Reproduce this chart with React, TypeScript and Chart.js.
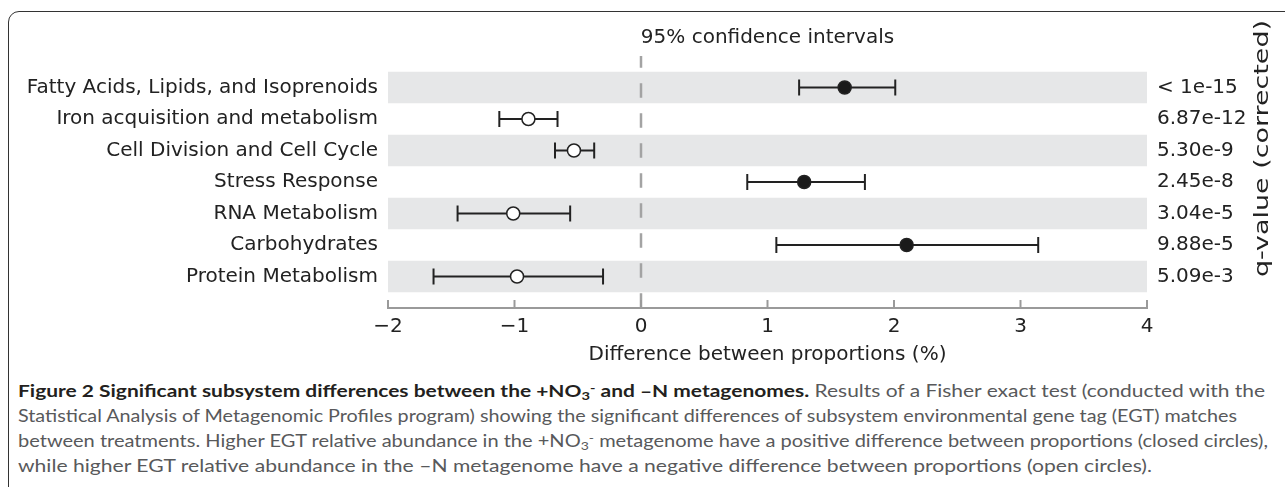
import React, { useEffect, useLayoutEffect, useRef } from 'react';
import { Chart, registerables } from 'chart.js';

Chart.register(...registerables);

const CATEGORIES = [
  'Fatty Acids, Lipids, and Isoprenoids',
  'Iron acquisition and metabolism',
  'Cell Division and Cell Cycle',
  'Stress Response',
  'RNA Metabolism',
  'Carbohydrates',
  'Protein Metabolism',
];
const DIFFERENCE = [1.61, -0.89, -0.53, 1.29, -1.01, 2.1, -0.98];
const CI_LOW = [1.25, -1.12, -0.68, 0.84, -1.45, 1.07, -1.64];
const CI_HIGH = [2.01, -0.66, -0.37, 1.77, -0.56, 3.14, -0.3];
const Q_VALUES = ['< 1e-15', '6.87e-12', '5.30e-9', '2.45e-8', '3.04e-5', '9.88e-5', '5.09e-3'];
const X_TICKS = [-2, -1, 0, 1, 2, 3, 4];

const TITLE = '95% confidence intervals';
const X_TITLE = 'Difference between proportions (%)';
const Q_TITLE = 'q-value (corrected)';

const FONT = "'DejaVu Sans', sans-serif";
const INK = '#222222';

const decor = {
  id: 'decor',
  beforeDatasetsDraw(chart: any) {
    const { ctx, chartArea: a, scales } = chart;
    const x = scales.x;
    const y = scales.y;
    ctx.save();
    // alternating row bands
    ctx.fillStyle = '#e6e7e8';
    CATEGORIES.forEach((_, i) => {
      if (i % 2 !== 0) return;
      const t = y.getPixelForValue(i - 0.5);
      const b = y.getPixelForValue(i + 0.5);
      ctx.fillRect(a.left, Math.min(t, b), a.right - a.left, Math.abs(b - t));
    });
    // dashed zero line
    const zx = x.getPixelForValue(0);
    ctx.strokeStyle = '#a3a3a3';
    ctx.lineWidth = 2.5;
    ctx.setLineDash([14.5, 15.5]);
    ctx.lineDashOffset = 2.7;
    ctx.beginPath();
    ctx.moveTo(zx, a.top);
    ctx.lineTo(zx, a.bottom);
    ctx.stroke();
    ctx.setLineDash([]);
    // inward tick marks
    ctx.strokeStyle = '#9a9a9a';
    ctx.lineWidth = 2;
    x.ticks.forEach((t: any) => {
      const px = x.getPixelForValue(t.value);
      ctx.beginPath();
      ctx.moveTo(px, a.bottom);
      ctx.lineTo(px, a.bottom - 8);
      ctx.stroke();
    });
    ctx.restore();
  },
  afterDraw(chart: any) {
    const { ctx, chartArea: a } = chart;
    ctx.save();
    ctx.font = `20px ${FONT}`;
    ctx.fillStyle = INK;
    ctx.textAlign = 'center';
    ctx.textBaseline = 'alphabetic';
    ctx.fillText(TITLE, (a.left + a.right) / 2, 43);
    // rotated right title
    const w = ctx.measureText(Q_TITLE).width;
    ctx.translate(a.right + 116, 148.5);
    ctx.rotate(-Math.PI / 2);
    ctx.scale(257 / w, 1);
    ctx.textBaseline = 'middle';
    ctx.fillText(Q_TITLE, 0, 0);
    ctx.restore();
  },
};

function ChartCanvas() {
  const ref = useRef<HTMLCanvasElement>(null);
  useEffect(() => {
    const canvas = ref.current;
    if (!canvas) return;
    const rowTicks = (s: any) => {
      s.ticks = CATEGORIES.map((_, i) => ({ value: i }));
    };
    const datasets: any[] = [
      {
        data: DIFFERENCE.map((v, i) => ({ x: v, y: i })),
        pointRadius: 6.5,
        pointBackgroundColor: DIFFERENCE.map((v) => (v > 0 ? '#1a1a1a' : '#ffffff')),
        pointBorderColor: INK,
        pointBorderWidth: 1.5,
        showLine: false,
      },
      ...CATEGORIES.map((_, i) => ({
        data: [
          { x: CI_LOW[i], y: i },
          { x: CI_HIGH[i], y: i },
        ],
        showLine: true,
        borderColor: INK,
        borderWidth: 2,
        pointStyle: 'line',
        pointRotation: 90,
        pointRadius: 8,
        pointBorderWidth: 2,
        pointBorderColor: INK,
      })),
    ];
    const chart = new Chart(canvas, {
      type: 'scatter',
      data: { datasets },
      plugins: [decor],
      options: {
        responsive: false,
        animation: false,
        events: [],
        layout: { padding: { top: 56, left: 0, right: 0, bottom: 0 } },
        plugins: {
          legend: { display: false },
          tooltip: { enabled: false },
          title: { display: false },
        },
        scales: {
          x: {
            type: 'linear',
            min: -2,
            max: 4,
            afterBuildTicks: (s: any) => {
              s.ticks = X_TICKS.map((v) => ({ value: v }));
            },
            ticks: {
              callback: (v: any) => (v < 0 ? '\u2212' + String(-v) : String(v)),
              font: { family: FONT, size: 20 },
              color: INK,
              padding: 7,
              maxRotation: 0,
              autoSkip: false,
            },
            grid: { display: false, drawTicks: false },
            border: { display: true, color: '#9a9a9a', width: 2 },
            title: {
              display: true,
              text: X_TITLE,
              font: { family: FONT, size: 20 },
              color: INK,
              padding: { top: 0, bottom: 3 },
            },
            afterFit: (s: any) => {
              s.height = 62;
            },
          },
          y: {
            type: 'linear',
            position: 'left',
            min: -1,
            max: 7,
            reverse: true,
            afterBuildTicks: rowTicks,
            ticks: {
              callback: (_v: any, i: number) => CATEGORIES[i] ?? '',
              font: { family: FONT, size: 20 },
              color: INK,
              padding: 10,
              autoSkip: false,
            },
            grid: { display: false, drawTicks: false },
            border: { display: false },
            afterFit: (s: any) => {
              s.width = 388;
            },
          },
          y2: {
            type: 'linear',
            position: 'right',
            min: -1,
            max: 7,
            reverse: true,
            afterBuildTicks: rowTicks,
            ticks: {
              callback: (_v: any, i: number) => Q_VALUES[i] ?? '',
              font: { family: FONT, size: 20 },
              color: INK,
              padding: 10,
              autoSkip: false,
            },
            grid: { display: false, drawTicks: false },
            border: { display: false },
            afterFit: (s: any) => {
              s.width = 138;
            },
          },
        },
      } as any,
    });
    return () => chart.destroy();
  }, []);
  return (
    <canvas
      ref={ref}
      width={1285}
      height={370}
      style={{ position: 'absolute', left: 0, top: 0, width: 1285, height: 370 }}
    />
  );
}

function FitLine({ top, width, children }: { top: number; width: number; children: any }) {
  const ref = useRef<HTMLDivElement>(null);
  useLayoutEffect(() => {
    const fit = () => {
      const el = ref.current;
      if (!el) return;
      el.style.transform = 'none';
      const w = el.getBoundingClientRect().width;
      if (w > 0) el.style.transform = `scaleX(${width / w})`;
    };
    fit();
    if ((document as any).fonts && (document as any).fonts.ready) {
      (document as any).fonts.ready.then(fit);
    }
  }, [width]);
  return (
    <div
      ref={ref}
      style={{
        position: 'absolute',
        left: 18,
        top,
        whiteSpace: 'nowrap',
        transformOrigin: 'left top',
        fontFamily: 'Lato, sans-serif',
        fontSize: 17,
        lineHeight: '17px',
        color: '#58595b',
      }}
    >
      {children}
    </div>
  );
}

const subStyle: any = { fontSize: '0.7em', lineHeight: 0, verticalAlign: '-0.25em' };
const supStyle: any = { fontSize: '0.7em', lineHeight: 0, verticalAlign: '0.45em' };
const NO3 = (
  <>
    +NO<span style={subStyle}>3</span>
    <span style={supStyle}>-</span>
  </>
);

export default function App() {
  return (
    <div
      style={{
        position: 'fixed',
        left: 0,
        top: 0,
        width: 1285,
        height: 487,
        overflow: 'hidden',
        background: '#ffffff',
      }}
    >
      <div
        style={{
          position: 'absolute',
          left: 8,
          top: 11,
          width: 1320,
          height: 520,
          border: '1.6px solid #333333',
          borderRadius: 11,
          boxSizing: 'border-box',
        }}
      />
      <ChartCanvas />
      <FitLine top={382} width={1247}>
        <b style={{ color: '#231f20' }}>
          Figure 2 Significant subsystem differences between the {NO3} and –N metagenomes.
        </b>{' '}
        Results of a Fisher exact test (conducted with the
      </FitLine>
      <FitLine top={407} width={1219}>
        Statistical Analysis of Metagenomic Profiles program) showing the significant differences of subsystem
        environmental gene tag (EGT) matches
      </FitLine>
      <FitLine top={432} width={1250}>
        between treatments. Higher EGT relative abundance in the {NO3} metagenome have a positive difference between
        proportions (closed circles),
      </FitLine>
      <FitLine top={457} width={1134}>
        while higher EGT relative abundance in the –N metagenome have a negative difference between proportions (open
        circles).
      </FitLine>
    </div>
  );
}
